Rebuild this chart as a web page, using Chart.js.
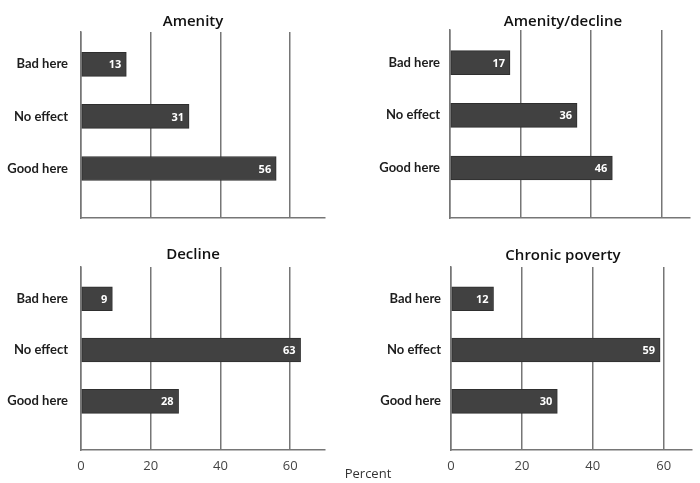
<!DOCTYPE html>
<html>
<head>
<meta charset="utf-8">
<script src="https://cdn.jsdelivr.net/npm/chart.js@4/dist/chart.umd.min.js"></script>
<style>
  html, body { margin: 0; padding: 0; background: #fff; }
  #wrap { position: relative; width: 700px; height: 483px; overflow: hidden; }
  canvas { position: absolute; }
  .ttl { position: absolute; transform: translateX(-50%); font: 600 15px "Open Sans", sans-serif; color: #111; line-height: 18px; white-space: nowrap; }
  #percent { position: absolute; left: 368px; top: 464px; transform: translateX(-50%); font: 13px "Open Sans", sans-serif; color: #333; line-height: 18px; }
</style>
</head>
<body>
<div id="wrap">
  <canvas id="c0" width="350" height="240" style="left:0;top:0"></canvas>
  <canvas id="c1" width="350" height="240" style="left:350px;top:0"></canvas>
  <canvas id="c2" width="350" height="243" style="left:0;top:240px"></canvas>
  <canvas id="c3" width="350" height="243" style="left:350px;top:240px"></canvas>
  <div class="ttl" style="left:193px;top:11px">Amenity</div>
  <div class="ttl" style="left:563px;top:11px">Amenity/decline</div>
  <div class="ttl" style="left:193px;top:244px">Decline</div>
  <div class="ttl" style="left:563px;top:245px">Chronic poverty</div>
  <div id="percent">Percent</div>
</div>
<script>
// Categories and percentages
const categories = ['Bad here', 'No effect', 'Good here'];
const amenity = [13, 31, 56];
const amenityDecline = [17, 36, 46];
const decline = [9, 63, 28];
const chronicPoverty = [12, 59, 30];
const xTicks = [0, 20, 40, 60];

const gridColor = '#767676';
const barColor = '#414141';

// White value labels at the end of each bar
const barLabels = {
    id: 'barLabels',
    afterDatasetsDraw(chart) {
        const ctx = chart.ctx;
        ctx.save();
        ctx.fillStyle = '#ffffff';
        ctx.font = 'bold 11px "Open Sans", sans-serif';
        ctx.textAlign = 'right';
        ctx.textBaseline = 'middle';
        chart.getDatasetMeta(0).data.forEach(function (bar, i) {
            ctx.fillText(chart.data.datasets[0].data[i].x, bar.x - 5, bar.y + 1);
        });
        ctx.restore();
    }
};

function makePanel(id, values, p) {
    const ctx = document.getElementById(id).getContext('2d');
    return new Chart(ctx, {
        type: 'bar',
        data: {
            datasets: [{
                data: values.map(function (v, i) { return { x: v, y: i }; }),
                backgroundColor: barColor,
                borderColor: '#2e2e2e',
                borderWidth: 1,
                borderSkipped: false,
                barThickness: 24
            }]
        },
        options: {
            indexAxis: 'y',
            responsive: false,
            animation: false,
            layout: { padding: { left: 0, right: p.right, top: p.top, bottom: 0 } },
            plugins: { legend: { display: false }, tooltip: { enabled: false } },
            scales: {
                x: {
                    type: 'linear',
                    min: 0,
                    max: p.xMax,
                    afterBuildTicks: function (scale) {
                        scale.ticks = xTicks.map(function (v) { return { value: v }; });
                    },
                    afterFit: function (scale) { scale.height = p.xHeight; },
                    grid: { color: gridColor, lineWidth: 1.5, drawTicks: false },
                    border: { display: true, color: gridColor, width: 1.5 },
                    ticks: {
                        display: p.showTicks,
                        padding: 8,
                        color: '#444',
                        font: { family: '"Open Sans", sans-serif', size: 13 }
                    }
                },
                y: {
                    type: 'linear',
                    reverse: true,
                    offset: false,
                    min: -0.62,
                    max: 2.95,
                    afterBuildTicks: function (scale) {
                        scale.ticks = categories.map(function (c, i) { return { value: i }; });
                    },
                    afterFit: function (scale) { scale.width = p.yWidth; },
                    grid: { display: false, drawTicks: false },
                    border: { display: true, color: gridColor, width: 1.5 },
                    ticks: {
                        padding: p.labelPad,
                        color: '#1e1e1e',
                        font: { family: 'Lato, sans-serif', size: 13, weight: 'bold' },
                        callback: function (value) { return categories[value]; }
                    }
                }
            }
        },
        plugins: [barLabels]
    });
}

makePanel('c0', amenity, { xMax: 70, right: 25, top: 32, xHeight: 22, yWidth: 81, labelPad: 13, showTicks: false });
makePanel('c1', amenityDecline, { xMax: 68, right: 10, top: 30, xHeight: 22, yWidth: 100, labelPad: 10, showTicks: false });
makePanel('c2', decline, { xMax: 70, right: 25, top: 27, xHeight: 33, yWidth: 81, labelPad: 13, showTicks: true });
makePanel('c3', chronicPoverty, { xMax: 68, right: 8, top: 27, xHeight: 33, yWidth: 101, labelPad: 10, showTicks: true });
</script>
</body>
</html>
